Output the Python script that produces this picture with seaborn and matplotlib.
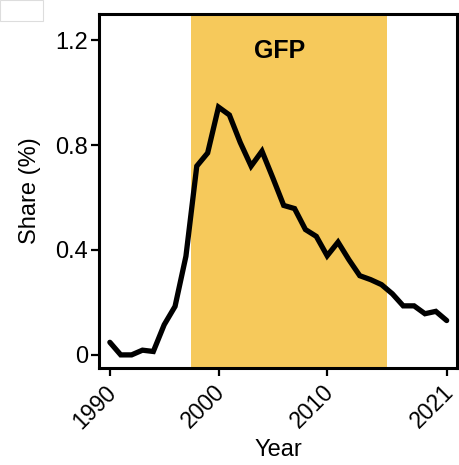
import matplotlib
matplotlib.use("Agg")
import matplotlib.pyplot as plt
import matplotlib.transforms as mtransforms
import seaborn as sns
import pandas as pd
from matplotlib.patches import Rectangle

years = list(range(1990, 2022))
share = [0.048, 0.0, 0.0, 0.018, 0.013, 0.115, 0.185, 0.376, 0.72, 0.77,
         0.945, 0.915, 0.81, 0.72, 0.777, 0.675, 0.57, 0.558, 0.478, 0.452,
         0.378, 0.43, 0.363, 0.302, 0.287, 0.268, 0.233, 0.187, 0.187, 0.157,
         0.166, 0.131]
era_label = "GFP"
era_start, era_end = 1997.5, 2015.5
x_ticks = [1990, 2000, 2010, 2021]
y_ticks = [0, 0.4, 0.8, 1.2]
y_tick_labels = ["0", "0.4", "0.8", "1.2"]

sns.set_theme(style="white")
plt.rcParams["font.family"] = ["Liberation Sans", "DejaVu Sans"]
plt.rcParams["text.color"] = "black"
plt.rcParams["axes.labelcolor"] = "black"
plt.rcParams["xtick.color"] = "black"
plt.rcParams["ytick.color"] = "black"

df = pd.DataFrame({"Year": years, "Share": share})

fig = plt.figure(figsize=(4.59, 4.65), dpi=100)
ax = fig.add_axes([99 / 459, 1 - 368 / 465, (457 - 99) / 459, (368 - 14) / 465])

ax.axvspan(era_start, era_end, color="#F6C95B", lw=0, zorder=0)
sns.lineplot(data=df, x="Year", y="Share", ax=ax, color="black", lw=3.8,
             solid_joinstyle="miter", zorder=3)
ax.text((era_start + era_end) / 2 - 0.9, 1.16, era_label, ha="center", va="center",
        fontsize=18, fontweight="bold", color="black")

ax.set_xlim(1989.0, 2021.95)
ax.set_ylim(-0.05, 1.30)
ax.set_xticks(x_ticks)
ax.set_xticklabels([str(t) for t in x_ticks], rotation=45, ha="right",
                   rotation_mode="anchor", fontsize=16.5)
ax.set_yticks(y_ticks)
ax.set_yticklabels(y_tick_labels, fontsize=17)
ax.tick_params(axis="both", direction="out", length=6, width=1.6, color="black",
               labelcolor="black", left=True, bottom=True, pad=2)
ax.tick_params(axis="x", pad=1)

# nudge the rotated year labels slightly left/down so they sit under their ticks
shift = mtransforms.ScaledTranslation(-5 / 100, -3 / 100, fig.dpi_scale_trans)
for lbl in ax.get_xticklabels():
    lbl.set_transform(lbl.get_transform() + shift)

ax.set_xlabel("Year", fontsize=17, labelpad=4, color="black")
ax.set_ylabel("Share (%)", fontsize=17, labelpad=10, color="black")
for s in ax.spines.values():
    s.set_linewidth(2.2)
    s.set_color("black")

fig.patches.append(Rectangle((0, 1 - 21 / 465), 43 / 459, 21 / 465,
                             transform=fig.transFigure, fill=False,
                             edgecolor="#dddddd", lw=0.8))

fig.savefig("out.png", dpi=100)
